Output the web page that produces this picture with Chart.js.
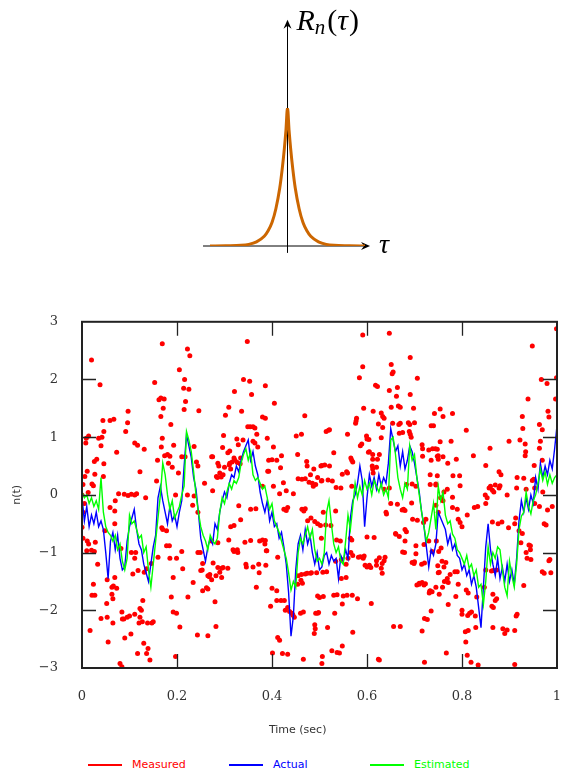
<!DOCTYPE html>
<html>
<head>
<meta charset="utf-8">
<script src="https://cdn.jsdelivr.net/npm/chart.js@4.4.0/dist/chart.umd.min.js"></script>
<style>
  body { margin: 0; background: #fff; width: 561px; height: 776px; position: relative; overflow: hidden; }
  #acfChart { position: absolute; left: 0; top: 0; }
  #mainChart { position: absolute; left: 0; top: 290px; }
  #legend { position: absolute; left: 0; top: 756px; width: 561px; height: 18px; font: 11px "DejaVu Sans", sans-serif; }
  .item { position: absolute; top: 0; height: 18px; line-height: 18px; white-space: nowrap; }
  .item .swatch { display: inline-block; width: 34px; height: 2px; vertical-align: middle; margin-right: 10px; }
</style>
</head>
<body>
<canvas id="acfChart" width="561" height="290"></canvas>
<canvas id="mainChart" width="561" height="452"></canvas>
<div id="legend"></div>
<script>
// autocorrelation sketch R_n(tau)
const tau = [-1, -0.8, -0.6, -0.5, -0.4, -0.3, -0.25, -0.2, -0.15, -0.1, -0.07, -0.04, -0.02, 0,
             0.02, 0.04, 0.07, 0.1, 0.15, 0.2, 0.25, 0.3, 0.4, 0.5, 0.6, 0.8, 1];
const acf = [0, 0.002, 0.005, 0.012, 0.03, 0.07, 0.11, 0.17, 0.27, 0.42, 0.55, 0.71, 0.84, 1,
             0.84, 0.71, 0.55, 0.42, 0.27, 0.17, 0.11, 0.07, 0.03, 0.012, 0.005, 0.002, 0];

// lower plot
const xTicks = [0, 0.2, 0.4, 0.6, 0.8, 1];
const yTicks = [-3, -2, -1, 0, 1, 2, 3];
const seriesNames = ['Measured', 'Actual', 'Estimated'];
const seriesColors = ['#ff0000', '#0000ff', '#00ff00'];
const xTitle = 'Time (sec)';
const yTitle = 'n(t)';
const sampleStep = 0.005; // actual / estimated sampled every 5 ms

const actual = [
  -0.05,-0.45,-0.2,-0.55,-0.35,-0.5,-0.3,-0.55,-0.45,-0.6,
  -1.0,-1.45,-0.8,-0.65,-0.95,-0.7,-1.1,-1.3,-1.25,-0.8,
  -0.55,-0.4,-0.25,-0.6,-0.85,-0.95,-1.2,-1.35,-1.5,-1.2,
  -0.9,-0.7,-0.05,0.15,-0.1,-0.3,-0.5,-0.2,-0.45,-0.35,
  -0.55,-0.3,-0.1,0.5,1.05,0.85,0.65,0.3,0.1,-0.3,
  -0.75,-0.95,-1.15,-0.9,-0.75,-0.85,-0.5,-0.6,-0.3,-0.1,
  0.05,-0.05,0.2,0.35,0.3,0.5,0.4,0.6,0.75,0.85,
  0.95,0.6,0.75,0.5,0.35,0.05,-0.15,-0.3,-0.1,-0.45,
  -0.3,-0.55,-0.5,-0.75,-0.65,-0.9,-1.2,-1.7,-2.45,-2.1,
  -1.3,-0.85,-0.7,-0.95,-0.6,-0.85,-0.7,-1.0,-1.2,-1.0,
  -1.3,-1.25,-1.05,-1.0,-1.2,-1.05,-1.15,-1.1,-1.45,-1.05,
  -1.15,-0.95,-1.1,-0.4,-0.1,0.0,0.2,0.5,0.25,-0.55,
  -0.05,0.35,0.15,0.3,0.1,0.35,0.15,0.3,0.2,0.55,
  1.15,0.95,0.75,0.85,0.5,0.75,0.45,0.6,0.85,0.75,
  0.55,0.3,0.05,-0.3,-0.55,-0.9,-1.25,-0.95,-1.05,-0.85,
  -0.3,-0.4,-0.5,-0.6,-0.85,-0.7,-0.95,-0.85,-1.05,-1.1,
  -1.3,-1.2,-1.4,-1.3,-1.55,-1.4,-1.6,-1.95,-2.3,-1.6,
  -0.9,-0.5,-0.95,-1.2,-1.4,-1.1,-1.45,-1.25,-1.5,-1.2,
  -1.5,-1.3,-1.55,-1.1,-0.45,-0.1,-0.3,-0.05,-0.25,0.0,
  -0.15,0.3,0.1,0.55,0.3,0.5,0.35,0.6,0.45,0.8,
  1.2
];

const estimated = [
  0.05,-0.05,0.0,-0.15,-0.05,-0.2,-0.1,-0.25,0.3,-0.3,
  -0.55,-0.65,-0.7,-0.8,-0.7,-0.95,-0.85,-1.15,-1.3,-1.1,
  -0.35,-0.5,-0.45,-0.6,-0.75,-0.7,-1.0,-0.9,-1.3,-1.6,
  -1.2,-0.8,-0.4,0.0,0.55,0.35,0.0,-0.25,-0.1,-0.4,
  -0.3,-0.2,0.0,0.15,1.1,0.95,0.75,0.4,0.0,-0.3,
  -0.55,-0.7,-0.8,-0.95,-0.7,-0.8,-0.85,-0.75,-0.3,-0.05,
  -0.15,0.05,0.2,0.1,0.25,0.2,0.3,0.55,0.7,0.8,
  0.6,0.75,0.35,0.25,0.3,0.2,0.1,0.15,-0.05,-0.25,
  -0.15,-0.45,-0.55,-0.65,-0.8,-0.95,-1.1,-1.35,-1.65,-1.5,
  -1.6,-1.0,-0.75,-0.85,-0.7,-0.55,-0.75,-0.6,-0.95,-1.15,
  -1.1,-1.2,-1.0,-0.3,-0.1,-0.5,-0.85,-1.0,-0.9,-1.15,
  -1.2,-0.8,-0.35,-0.6,-0.2,0.2,-0.05,0.15,0.0,0.25,
  0.1,0.2,0.0,0.25,0.15,0.05,0.2,0.0,0.1,-0.05,
  0.95,1.0,0.7,0.3,0.1,-0.05,0.2,0.1,0.85,0.6,
  0.7,0.3,0.0,-0.3,-0.55,-0.8,-0.65,-0.4,-0.15,-0.6,
  0.15,-0.1,0.05,-0.35,-0.5,-0.45,-0.68,-0.75,-0.95,-1.0,
  -1.1,-1.2,-1.05,-1.27,-1.2,-1.4,-1.3,-1.6,-1.55,-1.9,
  -1.5,-0.9,-1.2,-1.0,-1.1,-0.9,-0.95,-1.3,-1.6,-1.75,
  -1.15,-1.4,-1.6,-1.2,-0.6,-0.37,-0.3,0.05,-0.2,-0.33,
  -0.1,0.0,0.2,0.45,0.25,0.4,0.18,0.35,0.2,0.3,
  0.35
];

// noisy measurements, [time, value]
const measured = [
  [0.020,2.34],[0.038,1.91],[0.044,1.29],[0.046,1.10],[0.059,1.29],[0.067,1.31],[0.097,1.45],[0.096,1.25],[0.092,1.10],[0.073,0.74],
  [0.111,0.90],[0.117,0.86],[0.131,0.79],[0.122,0.40],[0.153,1.95],[0.169,2.62],[0.162,1.65],[0.166,1.68],[0.173,1.66],[0.171,1.50],
  [0.166,1.36],[0.187,1.22],[0.169,0.98],[0.167,0.83],[0.174,0.68],[0.180,0.70],[0.185,0.67],[0.159,0.60],[0.182,0.55],[0.190,0.48],
  [0.193,0.86],[0.205,2.17],[0.216,2.00],[0.214,1.85],[0.225,1.83],[0.218,1.62],[0.215,1.48],[0.222,2.53],[0.227,2.41],[0.246,1.46],
  [0.210,0.66],[0.217,0.66],[0.203,0.38],[0.236,0.84],[0.241,0.57],[0.197,0.00],[0.157,0.24],[0.011,0.41],[0.006,0.32],[0.002,0.18],
  [0.021,0.19],[0.024,0.16],[0.027,0.36],[0.045,0.32],[0.026,0.58],[0.031,0.62],[0.046,0.54],[0.009,0.98],[0.008,0.90],[0.014,1.02],
  [0.035,0.98],[0.042,1.00],[0.040,0.85],[0.077,0.02],[0.089,0.01],[0.097,-0.01],[0.104,0.01],[0.111,0.00],[0.115,0.02],[0.070,-0.10],
  [0.134,-0.05],[0.013,0.04],
  [0.348,2.66],[0.340,2.00],[0.353,1.97],[0.321,1.79],[0.357,1.74],[0.386,1.89],[0.405,1.59],[0.309,1.52],[0.336,1.45],[0.302,1.38],
  [0.380,1.35],[0.386,1.33],[0.469,1.37],[0.298,1.03],[0.326,0.97],[0.339,0.95],[0.329,0.87],[0.349,1.18],[0.354,1.18],[0.360,1.18],
  [0.364,1.16],[0.368,1.05],[0.360,0.93],[0.364,0.90],[0.370,0.83],[0.390,0.98],[0.403,0.83],[0.296,0.82],[0.311,0.76],[0.320,0.64],
  [0.322,0.60],[0.311,0.55],[0.316,0.57],[0.327,0.56],[0.333,0.54],[0.307,0.73],[0.275,0.66],[0.286,0.55],[0.290,0.38],[0.297,0.35],
  [0.283,0.32],[0.293,0.31],[0.420,0.68],[0.393,0.60],[0.400,0.61],[0.410,0.60],[0.391,0.41],[0.418,0.47],[0.424,0.21],[0.430,0.07],
  [0.445,0.02],[0.455,0.28],[0.463,0.27],[0.470,0.28],[0.474,0.50],[0.481,0.35],[0.473,0.58],[0.487,0.15],[0.488,0.45],[0.451,1.02],
  [0.462,1.05],[0.454,0.70],[0.514,1.10],[0.519,1.12],[0.521,1.13],[0.530,0.73],[0.505,0.51],[0.511,0.52],[0.521,0.50],[0.505,0.25],
  [0.518,0.26],[0.527,0.24],[0.496,0.30],[0.548,0.36],[0.535,0.13],[0.545,0.12],[0.591,2.77],[0.591,2.22],[0.584,2.03],[0.618,1.90],
  [0.622,1.88],[0.593,1.50],[0.613,1.45],[0.578,1.33],[0.576,1.24],[0.577,1.28],[0.559,1.05],[0.599,1.02],[0.604,0.96],[0.589,0.88],
  [0.568,0.60],[0.566,0.64],[0.570,0.57],[0.603,0.74],[0.612,0.62],[0.622,0.62],[0.611,0.50],[0.620,0.48],[0.613,0.38],[0.612,0.45],
  [0.559,0.38],[0.557,0.40],[0.568,0.15],
  [0.647,2.80],[0.651,2.26],[0.655,2.13],[0.653,2.10],[0.691,2.38],[0.706,2.02],[0.647,1.81],[0.664,1.86],[0.662,1.71],[0.691,1.74],
  [0.651,1.52],[0.666,1.54],[0.670,1.52],[0.698,1.50],[0.754,1.49],[0.742,1.41],[0.760,1.36],[0.780,1.41],[0.630,1.42],[0.633,1.36],
  [0.636,1.33],[0.633,1.17],[0.624,1.23],[0.654,1.24],[0.667,1.22],[0.670,1.24],[0.687,1.25],[0.690,1.22],[0.700,1.25],[0.689,1.10],
  [0.691,1.05],[0.693,1.00],[0.675,1.08],[0.668,1.07],[0.735,1.20],[0.740,1.20],[0.809,1.12],[0.777,0.93],[0.754,0.92],[0.630,0.99],
  [0.716,0.87],[0.738,0.80],[0.748,0.79],[0.717,0.67],[0.748,0.67],[0.760,0.66],[0.735,0.60],[0.750,0.62],[0.770,0.55],[0.788,0.62],
  [0.733,0.35],[0.748,0.33],[0.733,0.18],[0.745,0.19],[0.769,0.10],[0.781,0.33],[0.795,0.33],[0.796,0.16],[0.824,0.68],[0.850,0.51],
  [0.859,0.81],[0.878,0.40],[0.882,0.35],[0.857,0.12],[0.864,0.08],[0.867,0.05],[0.870,0.17],[0.849,0.00],[0.895,0.00],[0.899,0.93],
  [0.922,0.95],[0.927,1.36],[0.928,1.15],[0.933,0.88],[0.934,0.75],[0.933,0.68],[0.939,1.66],[0.948,2.58],[0.967,2.00],[0.979,1.93],
  [0.999,2.03],[0.999,2.88],[0.997,1.66],[0.981,1.45],[0.983,1.35],[0.969,1.13],[0.963,1.22],[0.965,0.93],[0.963,0.81],[0.969,0.60],
  [0.952,0.51],[0.948,0.25],[0.951,0.27],[0.916,0.30],[0.930,0.29],
  [0.000,0.00],[0.005,-0.15],[0.002,-0.30],[0.000,-0.56],[0.002,-0.75],[0.011,-0.80],[0.014,-0.85],[0.028,-0.82],[0.010,-0.97],[0.020,-0.96],
  [0.026,-0.98],[0.033,-1.20],[0.048,-0.62],[0.059,-0.22],[0.069,-0.28],[0.069,-0.50],[0.082,-0.93],[0.104,-1.00],[0.113,-1.00],[0.111,-1.10],
  [0.118,-1.31],[0.131,-1.34],[0.136,-1.28],[0.146,-1.19],[0.107,-1.37],[0.024,-1.55],[0.021,-1.74],[0.027,-1.74],[0.053,-1.47],[0.063,-1.60],
  [0.066,-1.58],[0.073,-1.62],[0.063,-1.72],[0.065,-1.80],[0.069,-1.43],[0.052,-1.88],[0.128,-1.83],[0.125,-2.00],[0.122,-1.97],[0.040,-2.14],
  [0.053,-2.12],[0.084,-2.03],[0.085,-2.15],[0.088,-2.15],[0.095,-2.12],[0.100,-2.10],[0.065,-2.22],[0.111,-2.07],[0.122,-2.12],[0.120,-2.22],
  [0.127,-2.20],[0.138,-2.22],[0.147,-2.22],[0.150,-2.20],[0.103,-2.41],[0.090,-2.48],[0.017,-2.35],[0.055,-2.55],[0.130,-2.57],[0.139,-2.66],
  [0.117,-2.75],[0.136,-2.75],[0.143,-2.86],[0.080,-2.92],[0.084,-2.98],[0.197,-2.80],[0.206,-2.29],[0.188,-1.77],[0.192,-2.03],[0.199,-2.05],
  [0.185,-1.10],[0.192,-1.43],[0.199,-1.10],[0.210,-0.98],[0.212,-1.28],[0.223,-1.77],[0.234,-1.52],[0.243,-2.43],[0.244,-1.00],[0.178,-0.88],
  [0.184,-0.88],[0.170,-0.60],[0.178,-0.62],[0.168,-0.57],[0.160,-1.08],[0.222,0.00],[0.236,-0.02],[0.233,-0.18],[0.244,-0.30],
  [0.265,-2.44],[0.282,-2.28],[0.280,-1.85],[0.262,-1.61],[0.265,-1.63],[0.254,-1.66],[0.269,-1.38],[0.273,-1.47],[0.250,-1.31],[0.253,-1.30],
  [0.290,-1.34],[0.294,-1.43],[0.286,-1.26],[0.297,-1.26],[0.307,-1.27],[0.276,-1.18],[0.318,-0.95],[0.328,-1.00],[0.345,-1.20],[0.360,-1.25],
  [0.372,-1.20],[0.367,-1.60],[0.389,-0.97],[0.400,-1.62],[0.410,-1.66],[0.410,-1.83],[0.397,-1.93],[0.419,-1.83],[0.426,-1.83],[0.428,-2.00],
  [0.433,-1.95],[0.437,-2.02],[0.442,-2.05],[0.447,-2.12],[0.444,-2.08],[0.412,-2.47],[0.416,-2.52],[0.401,-2.74],[0.422,-2.75],[0.433,-2.76],
  [0.466,-2.85],[0.460,-2.05],[0.466,-2.03],[0.492,-2.05],[0.496,-2.05],[0.490,-2.25],[0.491,-2.32],[0.489,-2.40],[0.496,-1.75],[0.500,-1.78],
  [0.508,-1.76],[0.494,-1.35],[0.507,-1.34],[0.515,-1.33],[0.462,-1.38],[0.474,-1.36],[0.483,-1.35],[0.454,-1.55],[0.461,-1.48],[0.506,-2.80],
  [0.526,-2.70],[0.537,-2.73],[0.542,-2.74],[0.548,-2.62],[0.505,-2.92],[0.570,-2.38],[0.532,-2.05],[0.530,-1.74],[0.537,-1.73],[0.548,-1.89],
  [0.558,-1.74],[0.569,-1.74],[0.580,-1.80],[0.550,-1.75],[0.546,-1.45],[0.556,-1.43],[0.534,-1.15],[0.546,-1.12],[0.560,-1.10],[0.556,-1.20],
  [0.570,-1.05],[0.582,-1.08],[0.592,-1.10],[0.596,-1.22],[0.605,-1.22],[0.609,-1.88],[0.624,-2.85],
  [0.626,-2.86],[0.656,-2.28],[0.670,-2.28],[0.721,-2.90],[0.767,-2.74],[0.716,-2.36],[0.721,-2.14],[0.735,-2.01],[0.771,-1.90],[0.811,-2.78],
  [0.819,-2.90],[0.834,-2.95],[0.911,-2.94],[0.808,-2.55],[0.807,-2.37],[0.813,-2.35],[0.829,-2.30],[0.800,-2.07],[0.812,-2.09],[0.816,-2.05],
  [0.820,-2.03],[0.828,-2.10],[0.787,-1.76],[0.800,-2.00],[0.792,-1.55],[0.809,-1.65],[0.813,-1.70],[0.831,-1.77],[0.847,-1.60],[0.865,-1.72],
  [0.873,-1.80],[0.870,-1.83],[0.863,-1.93],[0.866,-1.95],[0.865,-2.30],[0.886,-2.32],[0.890,-2.40],[0.895,-2.34],[0.911,-2.35],[0.916,-2.07],
  [0.914,-2.10],[0.763,-1.50],[0.769,-1.45],[0.771,-1.52],[0.745,-1.60],[0.759,-1.60],[0.731,-1.70],[0.733,-1.66],[0.710,-1.55],[0.705,-1.56],
  [0.720,-1.56],[0.750,-1.35],[0.752,-1.34],[0.749,-1.23],[0.775,-1.38],[0.785,-1.33],[0.790,-1.33],[0.758,-1.15],[0.766,-1.17],[0.762,-1.25],
  [0.737,-0.98],[0.751,-0.98],[0.756,-0.92],[0.730,-0.80],[0.746,-0.80],[0.720,-0.86],[0.695,-1.17],[0.700,-1.16],[0.715,-1.20],[0.721,-1.18],
  [0.675,-0.99],[0.679,-1.00],[0.661,-0.68],[0.668,-0.72],[0.683,-0.64],[0.636,-1.14],[0.632,-1.19],[0.626,-1.09],[0.620,-1.14],[0.632,-1.36],
  [0.696,-0.42],[0.719,-0.48],[0.724,-0.42],[0.674,-0.26],[0.680,-0.27],[0.640,-0.30],[0.636,0.10],[0.647,0.12],[0.745,-0.18],[0.750,-0.30],
  [0.760,-0.10],[0.755,-0.05],[0.762,0.05],[0.780,-0.22],[0.790,-0.25],[0.792,-0.42],[0.796,-0.48],[0.800,-0.55],[0.811,-0.35],[0.826,-0.22],
  [0.833,-0.20],[0.850,-0.15],[0.853,-0.05],[0.864,-0.47],[0.876,-0.50],[0.884,-0.47],[0.850,-1.30],[0.862,-1.32],[0.866,-1.31],[0.873,-1.30],
  [0.898,-0.57],[0.911,-0.50],[0.913,-0.40],[0.920,-0.62],[0.927,-0.67],[0.924,-0.83],[0.941,-0.87],[0.944,-0.88],[0.935,-1.00],[0.944,-0.95],
  [0.937,-1.10],[0.945,-1.12],[0.985,-1.12],[0.930,-1.57],[0.969,-1.33],[0.973,-1.36],[0.987,-1.35],[0.983,-1.14],[0.953,-0.15],[0.963,-0.20],
  [0.970,0.05],[0.990,-0.20],[0.980,-0.26],[0.973,-0.50],[0.977,-0.52],[0.953,0.12],[0.915,0.12],[0.935,0.10],[0.860,0.15],[0.878,0.12],
  [0.880,0.16],[0.780,-0.04],[0.703,0.15],[0.745,0.17],[0.683,0.18],[0.695,0.19],
  [0.273,0.66],[0.288,0.50],[0.300,0.48],[0.310,0.52],[0.285,0.30],[0.313,0.45],[0.334,0.64],[0.258,0.20],[0.275,0.07],[0.244,0.50],
  [0.393,0.41],[0.380,0.15],[0.403,0.15],[0.416,0.02],[0.478,0.22],[0.485,0.20],[0.492,0.18],[0.503,0.50],[0.504,0.24],[0.425,-0.25],
  [0.430,-0.27],[0.433,-0.22],[0.463,-0.25],[0.467,-0.28],[0.470,-0.24],[0.475,-0.45],[0.482,-0.40],[0.490,-0.46],[0.496,-0.50],[0.355,-0.25],
  [0.366,-0.24],[0.330,-0.19],[0.313,-0.55],[0.320,-0.53],[0.334,-0.43],[0.343,-0.82],[0.355,-0.79],[0.374,-0.80],[0.380,-0.78],[0.386,-0.79],
  [0.388,-0.97],[0.412,-1.08],[0.320,-0.98],[0.327,-0.95],[0.309,-0.78],[0.273,-0.80],[0.286,-0.83],[0.249,-1.00],[0.254,-1.19],[0.265,-1.40],
  [0.268,-1.42],[0.282,-1.40],[0.294,-1.27],[0.346,-1.25],[0.373,-1.35],[0.387,-1.22],[0.385,-0.85],[0.455,-1.40],[0.464,-1.53],[0.470,-1.37],
  [0.481,-1.36],
  [0.586,0.85],[0.600,0.97],[0.605,0.75],[0.612,0.70],[0.626,0.70],[0.717,0.80],[0.730,0.78],[0.744,0.80],[0.750,0.68],[0.508,-0.30],
  [0.534,-0.28],[0.524,-0.53],[0.502,-0.53],[0.513,-0.52],[0.504,-0.75],[0.536,-0.78],[0.544,-0.80],[0.565,-0.75],[0.568,-0.78],[0.566,-1.00],
  [0.586,-1.07],[0.594,-1.06],[0.600,-1.25],[0.608,-1.26],[0.620,-1.22],[0.630,-1.27],[0.638,-1.08],[0.600,-0.73],[0.615,-0.74],[0.660,-0.67],
  [0.650,-0.15],[0.664,-0.16],[0.677,-0.25],[0.694,-0.14],[0.641,-0.33],[0.706,-0.44],[0.680,-0.60],[0.680,-0.80],[0.699,-1.19],[0.703,-1.02],
  [0.710,-1.53],[0.716,-1.52],[0.723,-1.54],[0.732,-1.67],[0.737,-1.68],[0.727,-2.16],[0.752,-1.72],[0.703,-0.88],[0.498,-2.04],[0.517,-2.30]
];

// arrowhead for the sketch axes
function arrowHead(ctx, tx, ty, dx, dy) {
  const len = 9, half = 4, notch = 6;
  const px = -dy, py = dx;
  ctx.beginPath();
  ctx.moveTo(tx, ty);
  ctx.lineTo(tx - dx * len + px * half, ty - dy * len + py * half);
  ctx.lineTo(tx - dx * notch, ty - dy * notch);
  ctx.lineTo(tx - dx * len - px * half, ty - dy * len - py * half);
  ctx.closePath();
  ctx.fill();
}

const sketchAxes = {
  id: 'sketchAxes',
  beforeDatasetsDraw(chart) {
    const {ctx, scales: {x, y}} = chart;
    const x0 = x.getPixelForValue(0), y0 = y.getPixelForValue(0);
    const xl = x.getPixelForValue(-1.09), xr = x.getPixelForValue(1.065);
    const yt = y.getPixelForValue(1.64), yb = y.getPixelForValue(-0.05);
    ctx.save();
    ctx.strokeStyle = '#000';
    ctx.fillStyle = '#000';
    ctx.lineWidth = 1;
    ctx.beginPath();
    ctx.moveTo(xl, y0); ctx.lineTo(xr - 5, y0);
    ctx.moveTo(x0, yb); ctx.lineTo(x0, yt + 5);
    ctx.stroke();
    arrowHead(ctx, xr, y0, 1, 0);
    arrowHead(ctx, x0, yt, 0, -1);

    // axis labels
    ctx.textBaseline = 'alphabetic';
    ctx.textAlign = 'left';
    ctx.font = 'italic 28px "Liberation Serif"';
    ctx.fillText('\u03c4', xr + 9, y0 + 7);
    let cx = x0 + 9;
    const base = yt + 10;
    ctx.font = 'italic 30px "Liberation Serif"';
    ctx.fillText('R', cx, base); cx += ctx.measureText('R').width;
    ctx.font = 'italic 21px "Liberation Serif"';
    ctx.fillText('n', cx, base + 4); cx += ctx.measureText('n').width + 2;
    ctx.font = '30px "Liberation Serif"';
    ctx.fillText('(', cx, base); cx += ctx.measureText('(').width;
    ctx.font = 'italic 30px "Liberation Serif"';
    ctx.fillText('\u03c4', cx, base); cx += ctx.measureText('\u03c4').width + 1;
    ctx.font = '30px "Liberation Serif"';
    ctx.fillText(')', cx, base);
    ctx.restore();
  }
};

new Chart(document.getElementById('acfChart'), {
  type: 'scatter',
  data: {
    datasets: [{
      data: tau.map((t, i) => ({x: t, y: acf[i]})),
      showLine: true,
      borderColor: '#cc6600',
      borderWidth: 3,
      pointRadius: 0,
      cubicInterpolationMode: 'monotone',
      borderCapStyle: 'round'
    }]
  },
  options: {
    responsive: false,
    animation: false,
    layout: { padding: { left: 210, right: 196, top: 108, bottom: 44 } },
    plugins: { legend: { display: false }, tooltip: { enabled: false } },
    scales: {
      x: { type: 'linear', min: -1, max: 1, display: false },
      y: { min: 0, max: 1, display: false }
    }
  },
  plugins: [sketchAxes]
});

// box around the plot with inward tick marks on all four sides, plus the x title
const frameTicks = {
  id: 'frameTicks',
  afterDatasetsDraw(chart) {
    const {ctx, chartArea: a, scales: {x, y}} = chart;
    const len = 14;
    ctx.save();
    ctx.strokeStyle = '#222';
    ctx.lineWidth = 1.3;
    ctx.beginPath();
    yTicks.slice(1, -1).forEach(v => {
      const py = Math.round(y.getPixelForValue(v)) + 0.5;
      ctx.moveTo(a.left, py); ctx.lineTo(a.left + len, py);
      ctx.moveTo(a.right, py); ctx.lineTo(a.right - len, py);
    });
    xTicks.slice(1, -1).forEach(v => {
      const px = Math.round(x.getPixelForValue(v)) + 0.5;
      ctx.moveTo(px, a.top); ctx.lineTo(px, a.top + len);
      ctx.moveTo(px, a.bottom); ctx.lineTo(px, a.bottom - len);
    });
    ctx.stroke();
    ctx.lineWidth = 2;
    ctx.strokeRect(a.left, a.top, a.right - a.left, a.bottom - a.top);

    ctx.fillStyle = '#333';
    ctx.font = '11px "DejaVu Sans"';
    ctx.textAlign = 'center';
    ctx.textBaseline = 'middle';
    ctx.fillText(xTitle, x.getPixelForValue(0.454), a.bottom + 62);
    ctx.restore();
  }
};

const tickFont = { family: 'DejaVu Serif', size: 13 };
const titleFont = { family: 'DejaVu Sans', size: 11 };

const mainChart = new Chart(document.getElementById('mainChart'), {
  type: 'scatter',
  data: {
    datasets: [
      {
        label: seriesNames[0],
        data: measured.map(p => ({x: p[0], y: p[1]})),
        backgroundColor: seriesColors[0],
        borderColor: seriesColors[0],
        pointRadius: 2.5,
        pointBorderWidth: 0,
        showLine: false,
        order: 3
      },
      {
        label: seriesNames[1],
        data: actual.map((v, i) => ({x: +(i * sampleStep).toFixed(3), y: v})),
        borderColor: seriesColors[1],
        backgroundColor: seriesColors[1],
        borderWidth: 1.4,
        pointRadius: 0,
        showLine: true,
        order: 2
      },
      {
        label: seriesNames[2],
        data: estimated.map((v, i) => ({x: +(i * sampleStep).toFixed(3), y: v})),
        borderColor: seriesColors[2],
        backgroundColor: seriesColors[2],
        borderWidth: 1.4,
        pointRadius: 0,
        showLine: true,
        order: 1
      }
    ]
  },
  options: {
    responsive: false,
    animation: false,
    layout: { padding: { top: 30, right: 0, left: 0, bottom: 0 } },
    plugins: { legend: { display: false }, tooltip: { enabled: false } },
    scales: {
      x: {
        type: 'linear', min: 0, max: 1,
        grid: { display: false, drawTicks: false },
        border: { display: false },
        afterBuildTicks: s => { s.ticks = xTicks.map(v => ({value: v})); },
        ticks: {
          padding: 21, color: '#333', font: tickFont, maxRotation: 0, autoSkip: false,
          callback: v => String(+v.toFixed(1))
        },
        title: { display: false },
        // tick padding would otherwise be added to the side padding too
        afterFit: s => { s.height = 74; s.paddingLeft = 0; s.paddingRight = 3; }
      },
      y: {
        min: -3, max: 3,
        grid: { display: false, drawTicks: false },
        border: { display: false },
        afterBuildTicks: s => { s.ticks = yTicks.map(v => ({value: v})); },
        ticks: {
          padding: 24, color: '#333', font: tickFont,
          callback: v => String(v).replace('-', '\u2212')
        },
        title: { display: true, text: yTitle, color: '#333', font: titleFont, padding: { top: 11, bottom: 0 } },
        afterFit: s => { s.width = 82; }
      }
    }
  },
  plugins: [frameTicks]
});

// legend laid out in fixed-width columns under the plot
const legendLeft = [88, 229, 370];
const legendBox = document.getElementById('legend');
mainChart.data.datasets.forEach((ds, i) => {
  const item = document.createElement('div');
  item.className = 'item';
  item.style.left = legendLeft[i] + 'px';
  item.style.color = ds.borderColor;
  const sw = document.createElement('span');
  sw.className = 'swatch';
  sw.style.background = ds.borderColor;
  item.appendChild(sw);
  item.appendChild(document.createTextNode(ds.label));
  legendBox.appendChild(item);
});
</script>
</body>
</html>
